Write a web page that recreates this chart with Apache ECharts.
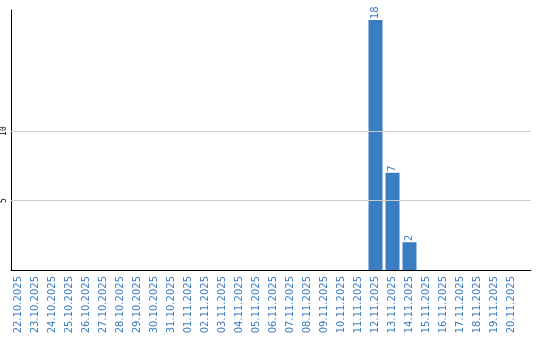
<!DOCTYPE html>
<html>
<head>
<meta charset="utf-8">
<script src="https://cdn.jsdelivr.net/npm/echarts@6/dist/echarts.min.js"></script>
<style>html,body{margin:0;padding:0;background:#fff}#c{width:540px;height:340px}</style>
</head>
<body>
<div id="c"></div>
<script>
const categories = ["22.10.2025","23.10.2025","24.10.2025","25.10.2025","26.10.2025","27.10.2025","28.10.2025","29.10.2025","30.10.2025","31.10.2025","01.11.2025","02.11.2025","03.11.2025","04.11.2025","05.11.2025","06.11.2025","07.11.2025","08.11.2025","09.11.2025","10.11.2025","11.11.2025","12.11.2025","13.11.2025","14.11.2025","15.11.2025","16.11.2025","17.11.2025","18.11.2025","19.11.2025","20.11.2025"];
const values = [0,0,0,0,0,0,0,0,0,0,0,0,0,0,0,0,0,0,0,0,0,18,7,2,0,0,0,0,0,0];
const yTickLabels = [5, 10];
const yMax = 18.72;

const blue = '#3a7dc3';
const chart = echarts.init(document.getElementById('c'), null, {renderer: 'canvas'});
chart.setOption({
  animation: false,
  grid: [
    {left: 10, top: 10, width: 510, height: 260, containLabel: false},
    {left: 10, top: 10, width: 521, height: 260, containLabel: false}
  ],
  xAxis: [
    {type: 'category', gridIndex: 0, data: categories,
     axisLine: {show: false}, axisTick: {show: false},
     axisLabel: {interval: 0, rotate: 90, margin: 6, color: blue, fontSize: 10, fontFamily: 'DejaVu Sans'}},
    {type: 'value', gridIndex: 1, min: 0, max: 1,
     axisLine: {show: true, onZero: false, lineStyle: {color: '#000', width: 1}},
     axisTick: {show: false}, axisLabel: {show: false}, splitLine: {show: false}}
  ],
  yAxis: [
    {type: 'value', gridIndex: 0, min: 0, max: yMax, show: false},
    {type: 'value', gridIndex: 1, min: 0, max: yMax, interval: 5,
     axisLine: {show: true, lineStyle: {color: '#000', width: 1}},
     axisTick: {show: false}, splitLine: {show: false},
     axisLabel: {rotate: 90, margin: 3, fontSize: 8, color: '#000', fontFamily: 'DejaVu Sans Mono',
       formatter: v => yTickLabels.indexOf(v) >= 0 ? String(v) : ''}}
  ],
  series: [
    {type: 'bar', xAxisIndex: 0, yAxisIndex: 0, data: values.map(v => v === 0 ? null : v),
     barWidth: 14, itemStyle: {color: blue},
     label: {show: true, position: 'top', rotate: 90, align: 'left', verticalAlign: 'middle', distance: 1,
       color: blue, fontSize: 10, fontFamily: 'DejaVu Sans'}},
    {type: 'line', xAxisIndex: 1, yAxisIndex: 1, data: [], silent: true,
     markLine: {silent: true, symbol: 'none', label: {show: false},
       lineStyle: {color: '#cccccc', width: 1, type: 'solid'},
       data: yTickLabels.map(v => ({yAxis: v}))}}
  ]
});
</script>
</body>
</html>
